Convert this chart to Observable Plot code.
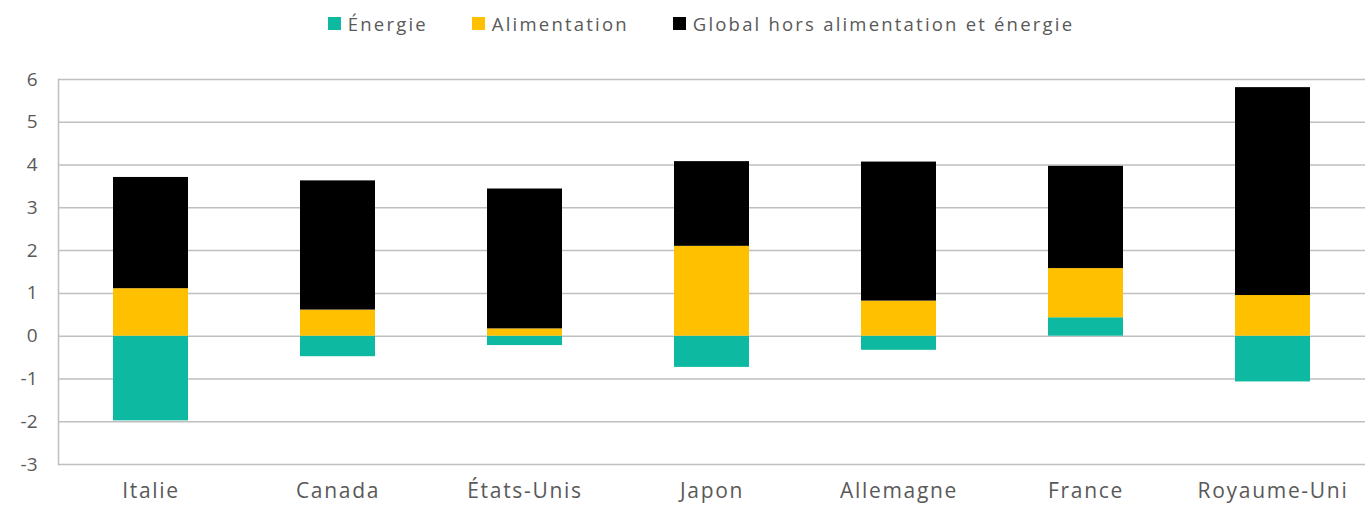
<!DOCTYPE html>
<html>
<head>
<meta charset="utf-8">
<script src="https://cdn.jsdelivr.net/npm/d3@7"></script>
<script src="https://cdn.jsdelivr.net/npm/@observablehq/plot@0.6"></script>
<style>
  html, body { margin: 0; padding: 0; background: #fff; }
  body { width: 1372px; height: 506px; overflow: hidden; font-family: "Open Sans", "Liberation Sans", Arial, sans-serif; }
  #legend { height: 50px; display: flex; justify-content: center; align-items: center; padding-left: 30px; padding-bottom: 4px; box-sizing: border-box; }
  .item { display: flex; align-items: center; margin: 0 22px; color: #595959; font-size: 18.5px; letter-spacing: 2.2px; }
  .sw { width: 13px; height: 13px; margin-right: 7px; }
  #chart g[aria-label="x-axis tick label"] text { letter-spacing: 1.7px; }
</style>
</head>
<body>
<div id="legend"></div>
<div id="chart"></div>
<script>
const countries = ["Italie", "Canada", "États-Unis", "Japon", "Allemagne", "France", "Royaume-Uni"];
const seriesNames = ["Énergie", "Alimentation", "Global hors alimentation et énergie"];
const seriesColors = ["#0DB9A0", "#FFC000", "#000000"];
const energie      = [-1.98, -0.48, -0.22, -0.73, -0.33, 0.43, -1.07];
const alimentation = [ 1.11,  0.61,  0.17,  2.10,  0.82, 1.15,  0.95];
const coreInfl     = [ 2.60,  3.02,  3.27,  1.98,  3.25, 2.39,  4.86];
const yTicks = [-3, -2, -1, 0, 1, 2, 3, 4, 5, 6];

const seriesValues = [energie, alimentation, coreInfl];
const data = [];
seriesNames.forEach((s, si) => {
  countries.forEach((c, ci) => data.push({country: c, series: s, value: seriesValues[si][ci]}));
});

const legend = document.getElementById("legend");
seriesNames.forEach((s, i) => {
  const it = document.createElement("div");
  it.className = "item";
  const sw = document.createElement("div");
  sw.className = "sw";
  sw.style.background = seriesColors[i];
  it.appendChild(sw);
  const t = document.createElement("span");
  t.textContent = s;
  it.appendChild(t);
  legend.appendChild(it);
});

const chart = Plot.plot({
  width: 1372,
  height: 456,
  marginTop: 29,
  marginBottom: 42,
  marginLeft: 58,
  marginRight: 7,
  style: {fontFamily: "Open Sans, Liberation Sans, Arial, sans-serif", color: "#595959", background: "#fff"},
  x: {domain: countries, paddingInner: 0.6, paddingOuter: 0.29, label: null},
  y: {domain: [-3, 6], label: null},
  color: {domain: seriesNames, range: seriesColors},
  marks: [
    Plot.gridY(yTicks, {stroke: "#BFBFBF", strokeOpacity: 1, strokeWidth: 1.5}),
    Plot.frame({anchor: "left", stroke: "#BFBFBF", strokeWidth: 1.5}),
    Plot.barY(data, Plot.stackY({x: "country", y: "value", fill: "series", z: "series", order: seriesNames})),
    Plot.axisY(yTicks, {tickSize: 0, tickPadding: 21, fontSize: 19, fill: "#595959", label: null, tickFormat: d => String(d)}),
    Plot.axisX({tickSize: 0, tickPadding: 19, fontSize: 21, fill: "#595959", label: null})
  ]
});
document.getElementById("chart").appendChild(chart);
</script>
</body>
</html>
